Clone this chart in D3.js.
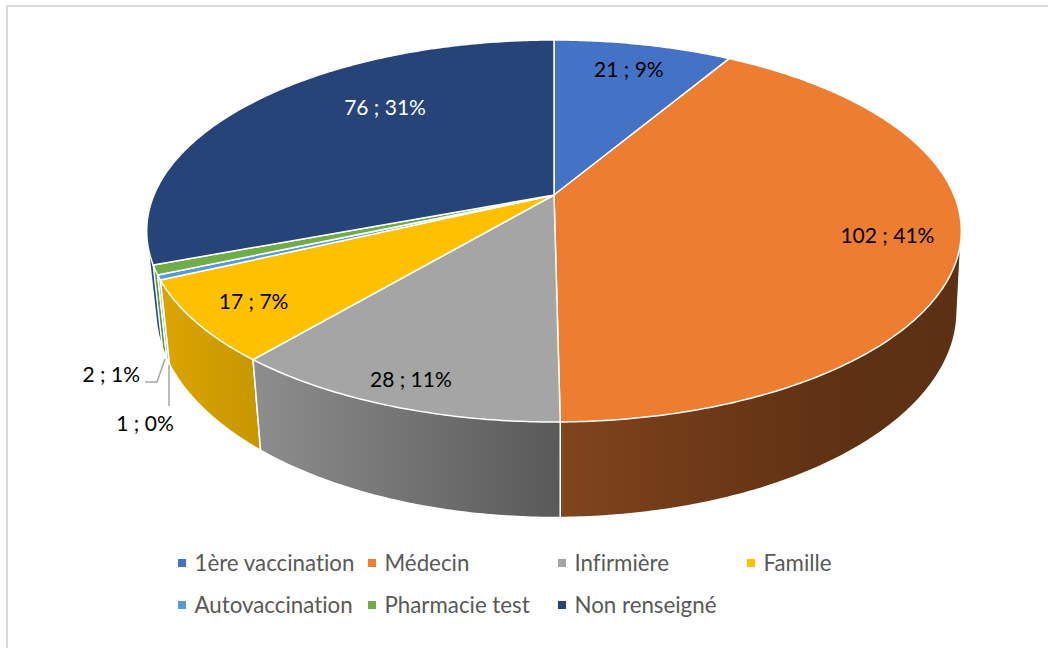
<!DOCTYPE html>
<html>
<head>
<meta charset="utf-8">
<script src="https://cdn.jsdelivr.net/npm/d3@7"></script>
<style>
    html, body { margin: 0; padding: 0; background: #fff; }
    svg { display: block; }
    text { font-family: Lato, "Noto Sans", sans-serif; font-variant-ligatures: none; }
</style>
</head>
<body>
<div id="chart"></div>
<script>
const categories = ["1ère vaccination", "Médecin", "Infirmière", "Famille", "Autovaccination", "Pharmacie test", "Non renseigné"];
const values = [21, 102, 28, 17, 1, 2, 76];
const percents = ["9%", "41%", "11%", "7%", "0%", "1%", "31%"];
const colors = ["#4472C4", "#ED7D31", "#A5A5A5", "#FFC000", "#5B9BD5", "#70AD47", "#264478"];

// wall shading, left to right
const wallShades = [
    ["#2f5597", "#2f5597"],
    ["#80451d", "#703a18", "#5f3214", "#5c3013"],
    ["#8e8e8e", "#595959"],
    ["#dba500", "#c79600"],
    ["#6fa8dc", "#6fa8dc"],
    ["#5f9a3c", "#5f9a3c"],
    ["#2a4a7f", "#2a4a7f"]
];

const width = 1048, height = 648;

// perspective of the tilted disc
const cam = { cx: 554, cy: 195, a: 184.2, c: 400, b: -0.1885, depth: 77.5, shrinkLeft: 0.022, shrinkRight: 0.01 };

function project(angle, r, z) {
    let u = Math.sin(angle) * r;
    let v = -Math.cos(angle) * r;
    let w = 1 + cam.b * v;
    let shrink = u < 0 ? cam.shrinkLeft : cam.shrinkRight;
    return [cam.cx + cam.c * u / (w + shrink * z), cam.cy + (cam.a * v + cam.depth * z) / w];
}

function arcPoints(a0, a1, z) {
    let n = Math.max(2, Math.ceil(Math.abs(a1 - a0) / 0.01));
    return d3.range(n + 1).map(i => project(a0 + (a1 - a0) * i / n, 1, z));
}

const svg = d3.select("#chart").append("svg")
    .attr("width", width)
    .attr("height", height);

const line = d3.line();

// frame
svg.append("path")
    .attr("d", "M7,648V6H1048")
    .attr("fill", "none")
    .attr("stroke", "#d9d9d9")
    .attr("stroke-width", 2);

const pie = d3.pie().sort(null).value(d => d);
const slices = pie(values);

const defs = svg.append("defs");
wallShades.forEach((shades, i) => {
    let grad = defs.append("linearGradient")
        .attr("id", "wall" + i)
        .attr("x1", 0).attr("x2", 1).attr("y1", 0).attr("y2", 0);
    shades.forEach((c, j) => {
        grad.append("stop")
            .attr("offset", j / (shades.length - 1))
            .attr("stop-color", c);
    });
});

// walls, back to front. hull gives the straight silhouette between the two rims
const wallOrder = [6, 0, 1, 5, 4, 3, 2];
svg.append("g").selectAll("path")
    .data(wallOrder)
    .enter()
    .append("path")
    .attr("d", i => {
        let s = slices[i];
        let top = arcPoints(s.startAngle, s.endAngle, 0);
        let bottom = arcPoints(s.endAngle, s.startAngle, 1);
        return line(d3.polygonHull(top.concat(bottom))) + "Z";
    })
    .attr("fill", i => "url(#wall" + i + ")")
    .attr("stroke", "#fff")
    .attr("stroke-width", 1.5)
    .attr("stroke-linejoin", "round");

// top face
svg.append("g").selectAll("path")
    .data(slices)
    .enter()
    .append("path")
    .attr("d", s => line([[cam.cx, cam.cy]].concat(arcPoints(s.startAngle, s.endAngle, 0))) + "Z")
    .attr("fill", (s, i) => colors[i])
    .attr("stroke", "#fff")
    .attr("stroke-width", 1.5)
    .attr("stroke-linejoin", "round");

// labels sitting on the slices
const labelRadius = [0.814, 0.828, 0.894, 0.854, null, null, 0.696];
const labelShift = [0, 0, 0, 0, 0, 0, 13.6 * Math.PI / 180];
const labelInk = ["#000", "#000", "#000", "#000", "#000", "#000", "#fff"];

svg.append("g").selectAll("text")
    .data(slices.filter((s, i) => labelRadius[i] !== null))
    .enter()
    .append("text")
    .each(function(s) {
        let i = s.index;
        let p = project((s.startAngle + s.endAngle) / 2 + labelShift[i], labelRadius[i], 0);
        d3.select(this)
            .attr("x", p[0])
            .attr("y", p[1] - 1)
            .attr("fill", labelInk[i])
            .text(values[i] + " ; " + percents[i]);
    })
    .attr("text-anchor", "middle")
    .attr("dominant-baseline", "central")
    .attr("font-size", 21);

// the two thin slices get outside labels with leaders
const outside = [
    { i: 5, x: 140, y: 373, anchor: "end", leader: [[145, 382], [157, 382], [165, 359]] },
    { i: 4, x: 145, y: 422, anchor: "middle", leader: [[169, 406], [169, 365]] }
];
outside.forEach(d => {
    svg.append("path")
        .attr("d", line(d.leader))
        .attr("fill", "none")
        .attr("stroke", "#a6a6a6")
        .attr("stroke-width", 1.5);
    svg.append("text")
        .attr("x", d.x)
        .attr("y", d.y)
        .attr("text-anchor", d.anchor)
        .attr("dominant-baseline", "central")
        .attr("font-size", 21)
        .attr("fill", "#000")
        .text(values[d.i] + " ; " + percents[d.i]);
});

// legend
const legendCols = d3.scaleOrdinal().domain([0, 1, 2, 3]).range([178, 368, 558, 747]);
const legendRows = d3.scaleOrdinal().domain([0, 1]).range([563, 605]);

let legend = svg.append("g").selectAll("g")
    .data(categories)
    .enter()
    .append("g")
    .attr("transform", (d, i) => "translate(" + legendCols(i % 4) + "," + legendRows(Math.floor(i / 4)) + ")");

legend.append("rect")
    .attr("x", 0)
    .attr("y", -4)
    .attr("width", 8)
    .attr("height", 8)
    .attr("fill", (d, i) => colors[i]);

legend.append("text")
    .attr("x", 16.5)
    .attr("y", -1)
    .attr("dominant-baseline", "central")
    .attr("font-size", 22.3)
    .attr("fill", "#595959")
    .text(d => d);
</script>
</body>
</html>
